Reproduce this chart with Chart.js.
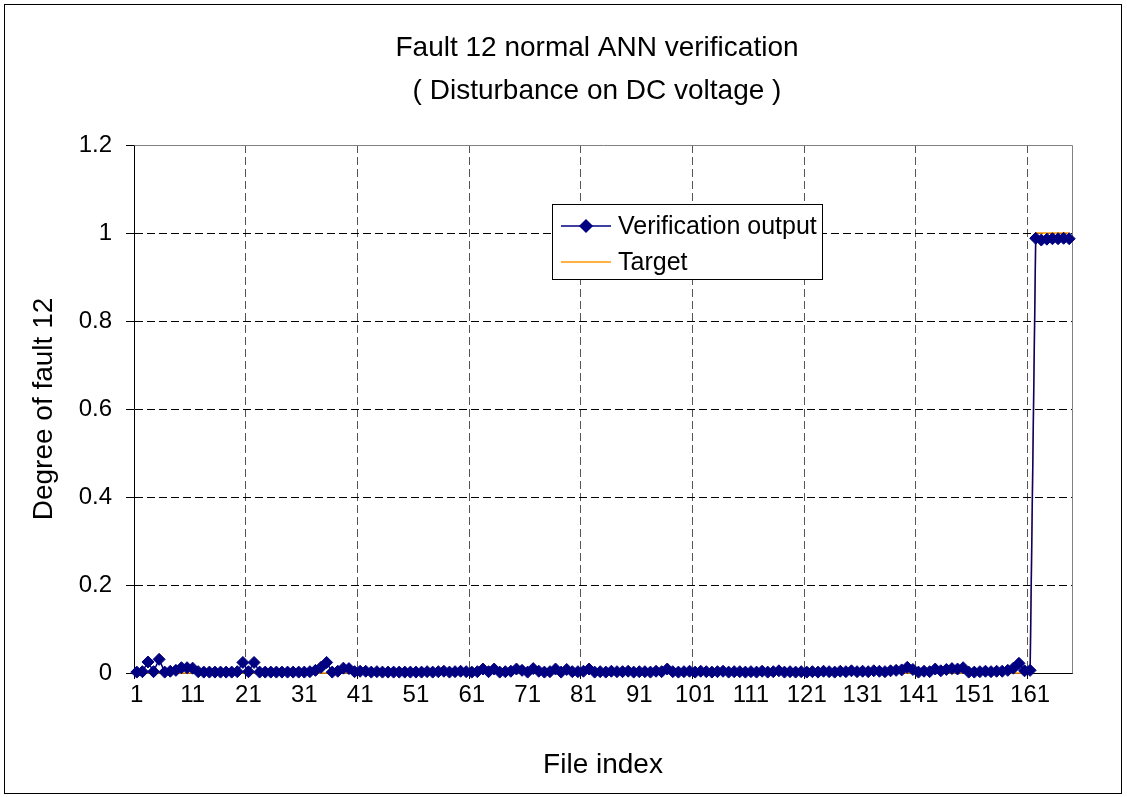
<!DOCTYPE html>
<html>
<head>
<meta charset="utf-8">
<script src="https://cdn.jsdelivr.net/npm/chart.js@4.4.1/dist/chart.umd.min.js"></script>
<style>
  html, body { margin: 0; padding: 0; background: #fff; }
  canvas { display: block; }
</style>
</head>
<body>
<canvas id="faultChart" width="1127" height="797"></canvas>
<script>
// Chart data
const titleLines = ['Fault 12 normal ANN verification', '( Disturbance on DC voltage )'];
const xAxisTitle = 'File index';
const yAxisTitle = 'Degree of fault 12';

// file index 1..168
const fileIndex = Array.from({length: 168}, (_, i) => String(i + 1));
const xTickLabels = ['1', '11', '21', '31', '41', '51', '61', '71', '81', '91',
    '101', '111', '121', '131', '141', '151', '161'];
const yTicks = [0, 0.2, 0.4, 0.6, 0.8, 1, 1.2];

const verificationOutput = [
    0.002, 0.003, 0.025, 0.003, 0.031, 0.002, 0.004, 0.006, 0.012, 0.012,
    0.011, 0.003, 0.002, 0.002, 0.002, 0.002, 0.002, 0.002, 0.003, 0.024,
    0.003, 0.024, 0.002, 0.002, 0.002, 0.002, 0.002, 0.002, 0.002, 0.002,
    0.002, 0.003, 0.006, 0.013, 0.024, 0.002, 0.004, 0.011, 0.010, 0.003,
    0.004, 0.004, 0.002, 0.003, 0.002, 0.002, 0.002, 0.002, 0.002, 0.002,
    0.002, 0.002, 0.003, 0.002, 0.003, 0.004, 0.002, 0.003, 0.004, 0.003,
    0.002, 0.003, 0.009, 0.003, 0.009, 0.002, 0.003, 0.004, 0.009, 0.006,
    0.002, 0.010, 0.004, 0.002, 0.003, 0.009, 0.002, 0.008, 0.003, 0.003,
    0.004, 0.009, 0.002, 0.003, 0.002, 0.004, 0.003, 0.003, 0.004, 0.002,
    0.003, 0.003, 0.002, 0.004, 0.003, 0.009, 0.003, 0.002, 0.003, 0.004,
    0.002, 0.004, 0.003, 0.002, 0.003, 0.004, 0.002, 0.003, 0.003, 0.002,
    0.003, 0.002, 0.004, 0.002, 0.003, 0.005, 0.002, 0.003, 0.002, 0.003,
    0.002, 0.003, 0.002, 0.004, 0.003, 0.002, 0.004, 0.003, 0.005, 0.003,
    0.004, 0.003, 0.005, 0.004, 0.003, 0.005, 0.006, 0.007, 0.013, 0.008,
    0.002, 0.004, 0.003, 0.009, 0.005, 0.008, 0.010, 0.009, 0.012, 0.002,
    0.002, 0.003, 0.004, 0.003, 0.004, 0.004, 0.006, 0.011, 0.022, 0.005,
    0.006, 0.988, 0.984, 0.986, 0.987, 0.987, 0.988, 0.987
];

const target = [
    0, 0, 0, 0, 0, 0, 0, 0, 0, 0, 0, 0, 0, 0, 0, 0, 0, 0, 0, 0,
    0, 0, 0, 0, 0, 0, 0, 0, 0, 0, 0, 0, 0, 0, 0, 0, 0, 0, 0, 0,
    0, 0, 0, 0, 0, 0, 0, 0, 0, 0, 0, 0, 0, 0, 0, 0, 0, 0, 0, 0,
    0, 0, 0, 0, 0, 0, 0, 0, 0, 0, 0, 0, 0, 0, 0, 0, 0, 0, 0, 0,
    0, 0, 0, 0, 0, 0, 0, 0, 0, 0, 0, 0, 0, 0, 0, 0, 0, 0, 0, 0,
    0, 0, 0, 0, 0, 0, 0, 0, 0, 0, 0, 0, 0, 0, 0, 0, 0, 0, 0, 0,
    0, 0, 0, 0, 0, 0, 0, 0, 0, 0, 0, 0, 0, 0, 0, 0, 0, 0, 0, 0,
    0, 0, 0, 0, 0, 0, 0, 0, 0, 0, 0, 0, 0, 0, 0, 0, 0, 0, 0, 0,
    0, 1, 1, 1, 1, 1, 1, 1
];

const colors = {
    output: '#000080',
    target: '#FF9900',
    grid: '#000000',
    gridX: '#555555',
    plotBorder: '#808080'
};

const FONT = '"Liberation Sans", Arial, sans-serif';
Chart.defaults.font.family = FONT;
Chart.defaults.color = '#000';

// gray frame on top/right of the plot area (Excel style)
const plotFramePlugin = {
    id: 'plotFrame',
    beforeDatasetsDraw(chart) {
        const {ctx, chartArea: a} = chart;
        ctx.save();
        ctx.strokeStyle = colors.plotBorder;
        ctx.lineWidth = 1;
        ctx.beginPath();
        ctx.moveTo(Math.round(a.left) + 0.5, Math.round(a.top) + 0.5);
        ctx.lineTo(Math.round(a.right) + 0.5, Math.round(a.top) + 0.5);
        ctx.lineTo(Math.round(a.right) + 0.5, Math.round(a.bottom) + 0.5);
        ctx.stroke();
        ctx.restore();
    }
};

// titles, boxed legend inside the plot and the outer chart border
const decorPlugin = {
    id: 'decor',
    afterDraw(chart) {
        const ctx = chart.ctx;
        const ds = chart.data.datasets;
        ctx.save();

        // title
        ctx.fillStyle = '#000';
        ctx.textAlign = 'center';
        ctx.textBaseline = 'middle';
        ctx.font = '28px ' + FONT;
        ctx.fillText(titleLines[0], 597, 48);
        ctx.fillText(titleLines[1], 597, 91);

        // legend
        const lx = 552.5, ly = 204.5, lw = 270, lh = 75;
        ctx.fillStyle = '#fff';
        ctx.fillRect(lx, ly, lw, lh);
        ctx.strokeStyle = '#000';
        ctx.lineWidth = 1;
        ctx.strokeRect(lx, ly, lw, lh);

        const rows = [226, 262];
        ds.forEach((d, i) => {
            const y = rows[i];
            ctx.strokeStyle = d.borderColor;
            ctx.lineWidth = 1.5;
            ctx.beginPath();
            ctx.moveTo(561, y);
            ctx.lineTo(611, y);
            ctx.stroke();
            if (d.pointRadius > 0) {
                Chart.helpers.drawPoint(ctx, {
                    pointStyle: d.pointStyle,
                    radius: d.pointRadius,
                    rotation: 0,
                    borderWidth: 1
                }, 586, y);
                ctx.fillStyle = d.backgroundColor;
                ctx.fill();
            }
            ctx.fillStyle = '#000';
            ctx.textAlign = 'left';
            ctx.textBaseline = 'middle';
            ctx.font = '25px ' + FONT;
            ctx.fillText(d.label, 618, y + 1);
        });

        // chart border
        ctx.strokeStyle = '#000';
        ctx.lineWidth = 1;
        ctx.strokeRect(4.5, 4.5, 1117, 789);
        ctx.restore();
    }
};

const chart = new Chart(document.getElementById('faultChart').getContext('2d'), {
    type: 'line',
    data: {
        labels: fileIndex,
        datasets: [{
            label: 'Verification output',
            data: verificationOutput,
            borderColor: colors.output,
            backgroundColor: colors.output,
            borderWidth: 1.5,
            pointStyle: 'rectRot',
            pointRadius: 6,
            pointBorderWidth: 1,
            tension: 0,
            clip: false
        }, {
            label: 'Target',
            data: target,
            borderColor: colors.target,
            backgroundColor: colors.target,
            borderWidth: 1.5,
            pointRadius: 0,
            tension: 0,
            clip: false
        }]
    },
    options: {
        responsive: false,
        animation: false,
        layout: {
            padding: {left: 0, top: 145, right: 55, bottom: 0}
        },
        plugins: {
            legend: {display: false},
            title: {display: false},
            tooltip: {enabled: false}
        },
        scales: {
            x: {
                type: 'category',
                offset: true,
                afterFit: scale => { scale.height = 124; },
                grid: {
                    offset: true,
                    drawTicks: true,
                    tickLength: 6,
                    lineWidth: 1,
                    color: c => (c.index > 0 && c.index % 20 === 0) ? colors.gridX : 'rgba(0,0,0,0)',
                    tickColor: c => (c.index !== undefined && c.index % 20 === 0) ? '#000' : 'rgba(0,0,0,0)'
                },
                border: {display: true, color: '#000', width: 1, dash: [8, 4]},
                ticks: {
                    autoSkip: false,
                    maxRotation: 0,
                    minRotation: 0,
                    padding: 2,
                    font: {size: 24},
                    callback: function (value) {
                        const lab = this.getLabelForValue(value);
                        return xTickLabels.includes(lab) ? lab : '';
                    }
                },
                title: {
                    display: true,
                    text: xAxisTitle,
                    font: {size: 28},
                    padding: {top: 0, bottom: 15}
                }
            },
            y: {
                type: 'linear',
                min: 0,
                max: 1.2,
                afterFit: scale => { scale.width = 134; },
                afterBuildTicks: scale => { scale.ticks = yTicks.map(v => ({value: v})); },
                grid: {
                    drawTicks: true,
                    tickLength: 8,
                    lineWidth: 1,
                    color: c => (c.tick && c.tick.value > 0 && c.tick.value < 1.2) ? colors.grid : 'rgba(0,0,0,0)',
                    tickColor: '#000'
                },
                border: {display: true, color: '#000', width: 1, dash: [8, 4]},
                ticks: {
                    padding: 14,
                    font: {size: 24},
                    callback: v => String(v)
                },
                title: {
                    display: true,
                    text: yAxisTitle,
                    font: {size: 28},
                    padding: {top: 27, bottom: 0}
                }
            }
        }
    },
    plugins: [plotFramePlugin, decorPlugin]
});
</script>
</body>
</html>
